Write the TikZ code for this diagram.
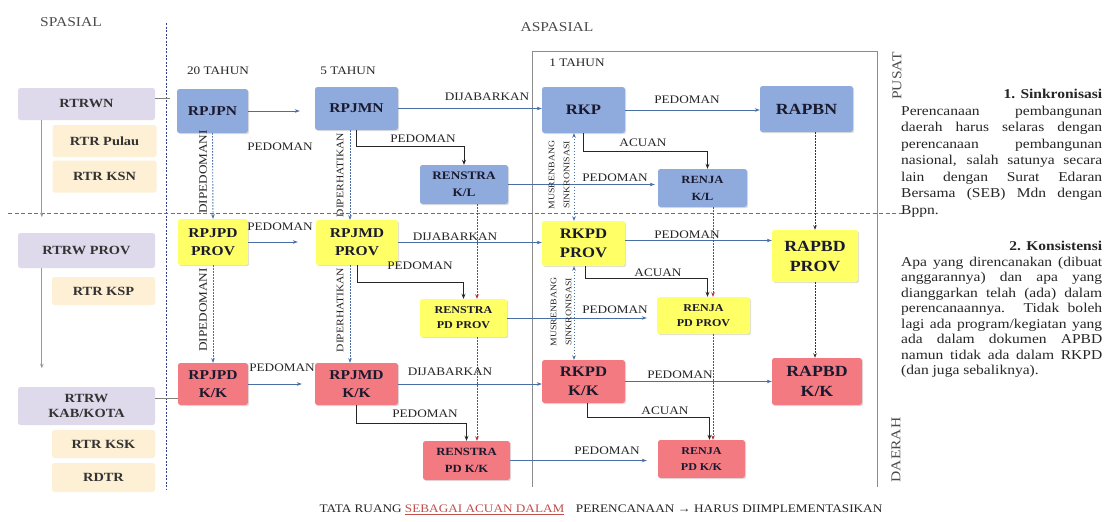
\documentclass[tikz,border=0pt]{standalone}
\usepackage{fontspec}
\setmainfont[FakeStretch=1.15]{Liberation Serif}
\usetikzlibrary{arrows.meta,shadows,calc}
\definecolor{cblue}{HTML}{8FAADC}
\definecolor{cyel}{HTML}{FFFF66}
\definecolor{cred}{HTML}{F47A82}
\definecolor{clav}{HTML}{DEDAEC}
\definecolor{cbei}{HTML}{FDF0D4}
\definecolor{lnblue}{HTML}{4A6FA5}
\definecolor{dotblue}{HTML}{2F3E8F}
\definecolor{redl}{HTML}{C0504D}
\definecolor{redd}{HTML}{C0282D}
\definecolor{txt}{HTML}{1A1A2E}
\newcommand\fsz[2]{\fontsize{#1}{#2}\selectfont}
\begin{document}
\begin{tikzpicture}[x=1pt,y=-1pt,
  box/.style={rounded corners=2.5pt, inner sep=1pt, align=center, font=\bfseries, text=txt,
    drop shadow={shadow xshift=1.2pt,shadow yshift=-1.2pt,opacity=.25}},
  bluebox/.style={box, fill=cblue},
  yelbox/.style={box, fill=cyel},
  redbox/.style={box, fill=cred},
  spbox/.style={rounded corners=2.5pt, inner sep=1pt, align=center, text=black!80, font=\bfseries\fsz{12.5}{15}},
  lavbox/.style={spbox, fill=clav},
  beibox/.style={spbox, fill=cbei},
  lbl/.style={font=\fsz{11.5}{13}, text=black!85, inner sep=1pt},
  vlbl/.style={lbl, rotate=90},
  hd/.style={font=\fsz{13.5}{15}, text=black!70, inner sep=1pt},
  harrow/.style={draw=lnblue, line width=0.75pt, -{Stealth[length=5pt,width=3.5pt]}},
  elbow/.style={draw=black!85, line width=0.9pt, -{Stealth[length=5pt,width=4pt]}},
  vdot/.style={draw=lnblue, line width=0.9pt, dash pattern=on 1.5pt off 1.5pt, -{Stealth[length=4.5pt,width=3.5pt]}},
  rdot/.style={draw=redd, line width=0.95pt, dash pattern=on 1.5pt off 1.5pt, -{Stealth[length=4.5pt,width=3.5pt]}},
  kdot/.style={draw=black!80, line width=0.9pt, dash pattern=on 1.5pt off 1.5pt, -{Stealth[length=4.5pt,width=3.5pt]}},
  garrow/.style={draw=black!40, line width=0.7pt, -{Stealth[length=4.5pt,width=3.5pt]}},
  note/.style={anchor=north west, inner sep=0pt, text width=201pt, align=justify, text=black!85}
]
\useasboundingbox (0,0) rectangle (1111,522);
\fill[white] (0,0) rectangle (1111,522);

% guide lines and frame
\draw[dotblue, line width=0.9pt, dash pattern=on 2pt off 1.5pt] (166,23) -- (166,490);
\draw[redl, line width=0.9pt, dash pattern=on 4pt off 2.5pt] (8,213) -- (905,213);
\draw[black!45, line width=0.7pt] (532,487) |- (877,51) -- (877,487);

% headings
\node[hd] (hsp) at (71,22) {SPASIAL};
\node[hd] (hasp) at (557,27) {ASPASIAL};
\node[lbl] (h20) at (218,71) {20 TAHUN};
\node[lbl] (h5) at (348,71) {5 TAHUN};
\node[lbl] (h1) at (577,63) {1 TAHUN};
\node[hd, rotate=90] (hpusat) at (897,76) {PUSAT};
\node[hd, rotate=90] (hdaerah) at (896,450) {DAERAH};

% spatial boxes
\node[lavbox, minimum width=137, minimum height=32] (rtrwn) at (86.5,104) {RTRWN};
\node[beibox, minimum width=104, minimum height=32] (rtrpulau) at (104.5,141) {RTR Pulau};
\node[beibox, minimum width=104, minimum height=32] (rtrksn) at (104.5,176.5) {RTR KSN};
\node[lavbox, minimum width=137, minimum height=35] (rtrwprov) at (86.5,250.5) {RTRW PROV};
\node[beibox, minimum width=103, minimum height=28] (rtrksp) at (103.5,291) {RTR KSP};
\node[lavbox, minimum width=137, minimum height=38] (rtrwkab) at (86.5,406) {RTRW\\KAB/KOTA};
\node[beibox, minimum width=103, minimum height=28] (rtrksk) at (103.5,444) {RTR KSK};
\node[beibox, minimum width=103, minimum height=29] (rdtr) at (103.5,477.5) {RDTR};

% RPJP column
\node[bluebox, font=\bfseries\fsz{13.5}{18}, minimum width=71, minimum height=44] (rpjpn) at (212.5,111) {RPJPN};
\node[yelbox, font=\bfseries\fsz{13.5}{18}, minimum width=70, minimum height=46] (rpjpdprov) at (213,242) {RPJPD\\PROV};
\node[redbox, font=\bfseries\fsz{13.5}{18}, minimum width=70, minimum height=42] (rpjpdkk) at (213,384) {RPJPD\\K/K};
% RPJM column
\node[bluebox, font=\bfseries\fsz{13.5}{18}, minimum width=83, minimum height=43] (rpjmn) at (356.5,108.5) {RPJMN};
\node[yelbox, font=\bfseries\fsz{13.5}{18}, minimum width=82, minimum height=45] (rpjmdprov) at (357,242.5) {RPJMD\\PROV};
\node[redbox, font=\bfseries\fsz{13.5}{18}, minimum width=83, minimum height=42] (rpjmdkk) at (356.5,384) {RPJMD\\K/K};
% Renstra
\node[bluebox, font=\bfseries\fsz{11.5}{17}, minimum width=88, minimum height=39] (renstrakl) at (464,184.5) {RENSTRA\\K/L};
\node[yelbox, font=\bfseries\fsz{10.5}{15}, minimum width=87, minimum height=38] (renstrapdprov) at (463.5,318) {RENSTRA\\PD PROV};
\node[redbox, font=\bfseries\fsz{11}{17}, minimum width=87, minimum height=39] (renstrapdkk) at (466.5,460.5) {RENSTRA\\PD K/K};
% RKP column
\node[bluebox, font=\bfseries\fsz{14.5}{19}, minimum width=83, minimum height=46] (rkp) at (583.5,110) {RKP};
\node[yelbox, font=\bfseries\fsz{14.5}{19}, minimum width=83, minimum height=45] (rkpdprov) at (583.5,243.5) {RKPD\\PROV};
\node[redbox, font=\bfseries\fsz{14.5}{19}, minimum width=83, minimum height=43] (rkpdkk) at (583.5,381.5) {RKPD\\K/K};
% Renja
\node[bluebox, font=\bfseries\fsz{11}{17}, minimum width=89, minimum height=38] (renjakl) at (702.5,188) {RENJA\\K/L};
\node[yelbox, font=\bfseries\fsz{10.5}{15}, minimum width=93, minimum height=37] (renjapdprov) at (703.5,315.5) {RENJA\\PD PROV};
\node[redbox, font=\bfseries\fsz{10.5}{16}, minimum width=87, minimum height=38] (renjapdkk) at (701.5,459) {RENJA\\PD K/K};
% APB
\node[bluebox, font=\bfseries\fsz{15.5}{20}, minimum width=93, minimum height=46] (rapbn) at (806.5,109) {RAPBN};
\node[yelbox, font=\bfseries\fsz{15.5}{20}, minimum width=86, minimum height=52] (rapbdprov) at (815,256) {RAPBD\\PROV};
\node[redbox, font=\bfseries\fsz{15.5}{20}, minimum width=90, minimum height=47] (rapbdkk) at (817,381.5) {RAPBD\\K/K};

% spatial connectors
\draw[garrow] ($(rtrwn.south west)+(24,0)$) -- ++(0,97);
\draw[garrow] ($(rtrwprov.south west)+(24,0)$) -- ++(0,100);
\draw[black!50, line width=0.7pt] ($(rtrwn.east)+(0,-6)$) -- ($(rtrwn.east)+(15,-6)$);
\draw[black!50, line width=0.7pt] ($(rtrwkab.east)+(0,-8)$) -- ($(rtrwkab.east -| rpjpdkk.west)+(0,-8)$);

% horizontal arrows
\draw[harrow] (rpjpn.east) -- ($(rpjpn.east -| rpjmn.west)+(-15,0)$);
\draw[harrow] (rpjpdprov.east) -- ($(rpjpdprov.east -| rpjmdprov.west)+(-18,0)$);
\draw[harrow] (rpjpdkk.east) -- ($(rpjpdkk.east -| rpjmdkk.west)+(-13,0)$);
\draw[harrow] (rpjmn.east) -- (rpjmn.east -| rkp.west);
\draw[harrow] (rpjmdprov.east) -- (rpjmdprov.east -| rkpdprov.west);
\draw[harrow] (rpjmdkk.east) -- (rpjmdkk.east -| rkpdkk.west);
\draw[harrow] (rkp.east) -- (rkp.east -| rapbn.west);
\draw[harrow] ($(rkpdprov.east)+(0,-3)$) -- ($(rkpdprov.east -| rapbdprov.west)+(0,-3)$);
\draw[harrow] (rkpdkk.east) -- (rkpdkk.east -| rapbdkk.west);
\draw[harrow] (renstrakl.east) -- ($(renstrakl.east -| renjakl.west)+(-3,0)$);
\draw[harrow] (renstrapdprov.east) -- ($(renstrapdprov.east -| renjapdprov.west)+(-10,0)$);
\draw[harrow] (renstrapdkk.east) -- ($(renstrapdkk.east -| renjapdkk.west)+(-11,0)$);

% elbow arrows
\draw[elbow] (rpjmn.south) -- ++(0,16) -| (renstrakl.north);
\draw[elbow] (rpjmdprov.south) -- ++(0,17) -| (renstrapdprov.north);
\draw[elbow] (rpjmdkk.south) -- ++(0,18) -| (renstrapdkk.north);
\draw[elbow] (rkp.south) -- ++(0,18) -| ($(renjakl.north)+(5,0)$);
\draw[elbow] ($(rkpdprov.south)+(2,0)$) -- ++(0,12) -| ($(renjapdprov.north)+(4,0)$);
\draw[elbow] ($(rkpdkk.south)+(4,0)$) -- ++(0,14) -| ($(renjapdkk.north)+(8,0)$);

% vertical dotted arrows
\draw[vdot] (rpjpn.south) -- (rpjpdprov.north);
\draw[vdot] (rpjpdprov.south) -- (rpjpdkk.north);
\draw[vdot] ($(rpjmn.south)+(-6.5,0)$) -- ($(rpjmdprov.north)+(-7,0)$);
\draw[vdot] ($(rpjmdprov.south)+(-7,0)$) -- ($(rpjmdkk.north)+(-6.5,0)$);
\draw[vdot, {Stealth[length=4.5pt,width=3.5pt]}-{Stealth[length=4.5pt,width=3.5pt]}] ($(rkp.south)+(-9.5,0)$) -- ($(rkpdprov.north)+(-9.5,0)$);
\draw[vdot, {Stealth[length=4.5pt,width=3.5pt]}-{Stealth[length=4.5pt,width=3.5pt]}] ($(rkpdprov.south)+(-9.5,0)$) -- ($(rkpdkk.north)+(-9.5,0)$);
\draw[kdot] (rapbn.south -| rapbdprov.north) -- (rapbdprov.north);
\draw[kdot] (rapbdprov.south) -- (rapbdprov.south |- rapbdkk.north);
\draw[rdot] ($(renstrakl.south)+(13,0)$) -- ($(renstrakl.south |- renstrapdprov.north)+(13,0)$);
\draw[rdot] ($(renstrapdprov.south)+(13.5,0)$) -- ($(renstrapdprov.south |- renstrapdkk.north)+(13.5,0)$);
\draw[rdot] ($(renjakl.south)+(10.5,0)$) -- ($(renjakl.south |- renjapdprov.north)+(10.5,0)$);
\draw[rdot] ($(renjapdprov.south)+(9.5,0)$) -- ($(renjapdprov.south |- renjapdkk.north)+(9.5,0)$);

% connector labels
\node[lbl] (p1) at (280,147) {PEDOMAN};
\node[lbl] (p2) at (280,227) {PEDOMAN};
\node[lbl] (p3) at (282,368) {PEDOMAN};
\node[lbl] (d1) at (487,97) {DIJABARKAN};
\node[lbl] (d2) at (455,237) {DIJABARKAN};
\node[lbl] (d3) at (450,372) {DIJABARKAN};
\node[lbl] (p4) at (687,100) {PEDOMAN};
\node[lbl] (p5) at (687,235) {PEDOMAN};
\node[lbl] (p6) at (680,375) {PEDOMAN};
\node[lbl] (p7) at (423,139) {PEDOMAN};
\node[lbl] (p8) at (420,266) {PEDOMAN};
\node[lbl] (p9) at (425,414) {PEDOMAN};
\node[lbl] (a1) at (643,143) {ACUAN};
\node[lbl] (a2) at (658,273) {ACUAN};
\node[lbl] (a3) at (665,411) {ACUAN};
\node[lbl] (p10) at (615,178) {PEDOMAN};
\node[lbl] (p11) at (615,310) {PEDOMAN};
\node[lbl] (p12) at (607,451) {PEDOMAN};
\node[vlbl] (v1) at (203,172) {DIPEDOMANI};
\node[vlbl] (v2) at (203,310) {DIPEDOMANI};
\node[vlbl, font=\fsz{10}{12}] (v3) at (340,175) {DIPERHATIKAN};
\node[vlbl, font=\fsz{10}{12}] (v4) at (340,310) {DIPERHATIKAN};
\node[vlbl, font=\fsz{8.5}{15}, align=center] (v5) at (559,175) {MUSRENBANG\\SINKRONISASI};
\node[vlbl, font=\fsz{8.5}{15}, align=center] (v6) at (561,312) {MUSRENBANG\\SINKRONISASI};

% notes
\node[note, font=\fsz{13.5}{16.5}] (n1) at (901,89) {{\raggedleft\bfseries 1. Sinkronisasi\par}
Perencanaan pembangunan\linebreak daerah harus selaras dengan\linebreak perencanaan pembangunan\linebreak nasional, salah satunya secara\linebreak lain dengan Surat Edaran\linebreak Bersama (SEB) Mdn dengan\linebreak Bppn.};
\node[note, font=\fsz{13.5}{15.5}] (n2) at (901,241) {{\raggedleft\bfseries 2. Konsistensi\par}
Apa yang direncanakan (dibuat\linebreak anggarannya) dan apa yang\linebreak dianggarkan telah (ada) dalam\linebreak perencanaannya. Tidak boleh\linebreak lagi ada program/kegiatan yang\linebreak ada dalam dokumen APBD\linebreak namun tidak ada dalam RKPD\linebreak (dan juga sebaliknya).};

% bottom caption
\node[font=\fsz{11.5}{13}, text=black!85, inner sep=1pt] (cap) at (601,510) {TATA RUANG \textcolor{redl}{\underline{SEBAGAI ACUAN DALAM}}\quad PERENCANAAN → HARUS DIIMPLEMENTASIKAN};
\end{tikzpicture}
\end{document}
